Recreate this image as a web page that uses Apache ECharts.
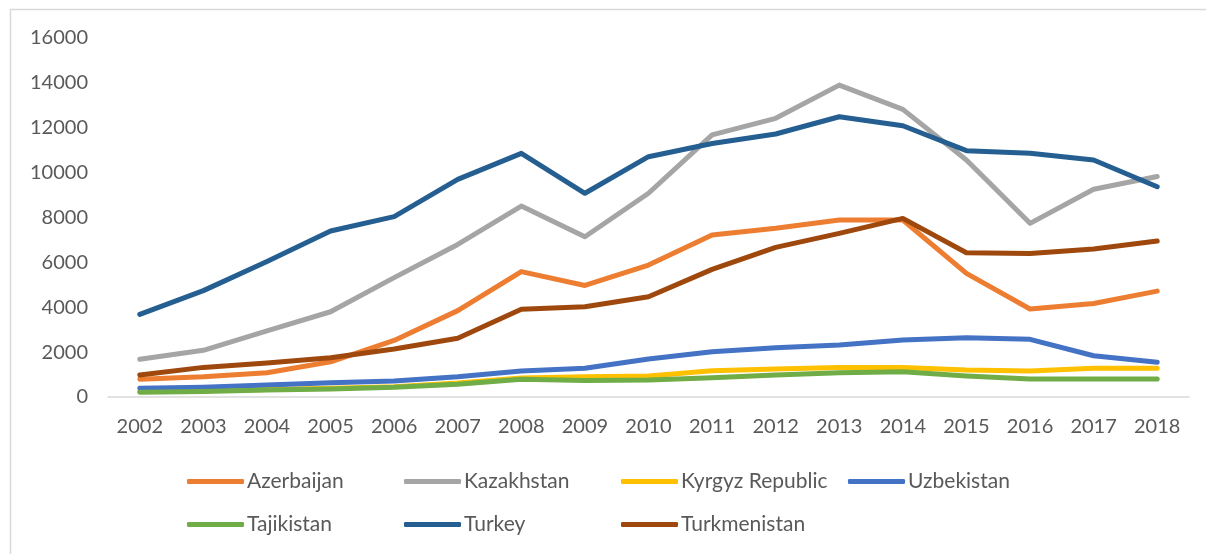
<!DOCTYPE html>
<html>
<head>
<meta charset="utf-8">
<script src="https://cdn.jsdelivr.net/npm/echarts@6/dist/echarts.min.js"></script>
<style>
  html, body { margin: 0; padding: 0; background: #fff; }
  #chart { width: 1206px; height: 554px; }
</style>
</head>
<body>
<div id="chart"></div>
<script>
// Years on the category axis
const years = ['2002','2003','2004','2005','2006','2007','2008','2009','2010','2011','2012','2013','2014','2015','2016','2017','2018'];

// Series values per country
const azerbaijan   = [790, 900, 1080, 1570, 2520, 3850, 5590, 4970, 5880, 7220, 7520, 7890, 7890, 5510, 3920, 4170, 4720];
const kazakhstan   = [1680, 2080, 2950, 3800, 5320, 6800, 8510, 7140, 9080, 11680, 12420, 13900, 12820, 10560, 7740, 9260, 9830];
const kyrgyz       = [250, 280, 330, 390, 460, 620, 850, 900, 940, 1170, 1250, 1310, 1320, 1200, 1160, 1280, 1280];
const uzbekistan   = [390, 430, 530, 640, 710, 900, 1160, 1280, 1690, 2020, 2200, 2320, 2540, 2640, 2570, 1840, 1550];
const tajikistan   = [210, 240, 310, 360, 430, 570, 790, 730, 760, 860, 980, 1080, 1130, 940, 800, 800, 800];
const turkey       = [3680, 4740, 6040, 7400, 8040, 9700, 10860, 9080, 10710, 11300, 11720, 12490, 12090, 10980, 10860, 10560, 9370];
const turkmenistan = [980, 1320, 1510, 1750, 2140, 2620, 3910, 4020, 4470, 5690, 6670, 7290, 7960, 6430, 6400, 6600, 6950];

// Y axis ticks
const yMin = 0, yMax = 16000, yStep = 2000;

const seriesDefs = [
  { name: 'Azerbaijan',      data: azerbaijan,   color: '#ED7D31' },
  { name: 'Kazakhstan',      data: kazakhstan,   color: '#A5A5A5' },
  { name: 'Kyrgyz Republic', data: kyrgyz,       color: '#FFC000' },
  { name: 'Uzbekistan',      data: uzbekistan,   color: '#4472C4' },
  { name: 'Tajikistan',      data: tajikistan,   color: '#70AD47' },
  { name: 'Turkey',          data: turkey,       color: '#255E91' },
  { name: 'Turkmenistan',    data: turkmenistan, color: '#9E480E' }
];

// Legend placement: two rows, fixed columns
const legendSlots = [
  [187, 471], [404, 471], [621, 471], [848, 471],
  [187, 514], [404, 514], [621, 514]
];

const FONT = 'Lato, "Open Sans", sans-serif';
const TEXT = '#595959';

const chart = echarts.init(document.getElementById('chart'), null, { renderer: 'canvas' });

chart.setOption({
  animation: false,
  backgroundColor: '#ffffff',
  textStyle: { fontFamily: FONT },
  grid: { left: 108, right: 17, top: 38, height: 359, containLabel: false },
  xAxis: {
    type: 'category',
    data: years,
    boundaryGap: true,
    axisLine: { show: true, lineStyle: { color: '#D9D9D9', width: 1.5 } },
    axisTick: { show: false },
    axisLabel: { color: TEXT, fontSize: 20, fontFamily: FONT, margin: 20 }
  },
  yAxis: {
    type: 'value',
    min: yMin, max: yMax, interval: yStep,
    axisLine: { show: false },
    axisTick: { show: false },
    splitLine: { show: false },
    axisLabel: { color: TEXT, fontSize: 20, fontFamily: FONT, margin: 20, formatter: v => String(v) }
  },
  legend: seriesDefs.map((s, i) => ({
    data: [s.name],
    left: legendSlots[i][0],
    top: legendSlots[i][1],
    itemWidth: 57,
    itemHeight: 5,
    itemGap: 0,
    padding: 0,
    icon: 'roundRect',
    textStyle: { color: TEXT, fontSize: 21, fontFamily: FONT, padding: [0, 0, 0, -2] },
    selectedMode: false
  })),
  graphic: [
    { type: 'line', shape: { x1: 10, y1: 9.5, x2: 1206, y2: 9.5 }, style: { stroke: '#D9D9D9', lineWidth: 1.5 }, silent: true },
    { type: 'line', shape: { x1: 10.5, y1: 9, x2: 10.5, y2: 554 }, style: { stroke: '#D9D9D9', lineWidth: 1.5 }, silent: true }
  ],
  series: seriesDefs.map(s => ({
    name: s.name,
    type: 'line',
    data: s.data,
    symbol: 'none',
    smooth: false,
    color: s.color,
    lineStyle: { color: s.color, width: 5, cap: 'round', join: 'round' }
  }))
});
</script>
</body>
</html>
